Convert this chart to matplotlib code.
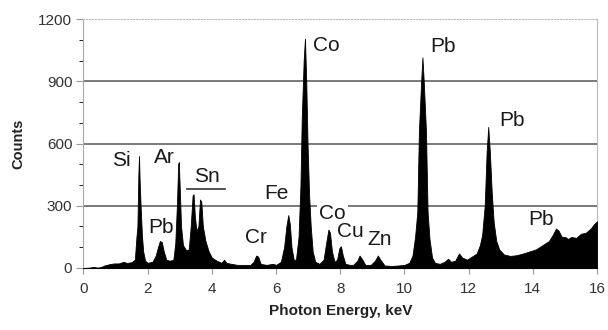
import matplotlib
matplotlib.use("Agg")
import matplotlib.pyplot as plt
from matplotlib.ticker import MultipleLocator

plt.rcParams['font.family'] = ['Liberation Sans', 'DejaVu Sans']

# Spectrum (keV, counts)
energy = [0.00, 0.20, 0.30, 0.45, 0.55, 0.65, 0.80, 0.95, 1.10, 1.25, 1.35, 1.50,
          1.60, 1.65, 1.68, 1.71, 1.73, 1.75, 1.78, 1.82, 1.86, 1.92, 2.00, 2.15,
          2.25, 2.32, 2.38, 2.44, 2.50, 2.58, 2.68, 2.80, 2.86, 2.91, 2.95, 2.97,
          3.00, 3.04, 3.10, 3.20, 3.28, 3.34, 3.40, 3.43, 3.47, 3.52, 3.58, 3.63,
          3.67, 3.72, 3.80, 3.90, 4.00, 4.15, 4.30, 4.38, 4.45, 4.60, 4.80, 5.00,
          5.20, 5.30, 5.38, 5.44, 5.52, 5.70, 5.90, 6.00, 6.15, 6.25, 6.32, 6.38,
          6.43, 6.48, 6.55, 6.62, 6.70, 6.76, 6.80, 6.86, 6.90, 6.94, 6.98, 7.03,
          7.08, 7.14, 7.22, 7.35, 7.48, 7.56, 7.63, 7.68, 7.74, 7.82, 7.90, 7.97,
          8.02, 8.08, 8.16, 8.30, 8.40, 8.53, 8.60, 8.67, 8.78, 8.95, 9.08, 9.17,
          9.25, 9.38, 9.60, 9.80, 10.00, 10.15, 10.25, 10.33, 10.40, 10.45, 10.52,
          10.56, 10.60, 10.67, 10.72, 10.78, 10.86, 10.95, 11.10, 11.25, 11.36,
          11.45, 11.58, 11.70, 11.80, 11.95, 12.10, 12.25, 12.35, 12.42, 12.50,
          12.56, 12.61, 12.66, 12.72, 12.78, 12.86, 12.95, 13.10, 13.30, 13.50,
          13.70, 13.90, 14.10, 14.30, 14.50, 14.62, 14.72, 14.80, 14.90, 15.00,
          15.10, 15.20, 15.35, 15.50, 15.65, 15.80, 15.90, 16.00]
counts = [0, 2, 5, 2, 5, 12, 18, 22, 22, 30, 24, 28,
          40, 150, 200, 450, 540, 420, 300, 160, 80, 35, 25, 30,
          60, 100, 130, 125, 80, 40, 35, 40, 120, 300, 500, 510,
          380, 200, 110, 85, 90, 200, 350, 355, 250, 180, 200, 330,
          320, 200, 130, 80, 50, 35, 25, 40, 25, 20, 15, 15,
          15, 30, 60, 55, 20, 15, 20, 15, 30, 100, 200, 255,
          210, 100, 40, 40, 150, 400, 720, 1000, 1105, 900, 600, 350,
          200, 80, 30, 20, 40, 120, 185, 170, 80, 30, 40, 95,
          105, 60, 20, 15, 15, 35, 60, 45, 15, 15, 35, 60,
          40, 12, 10, 12, 15, 25, 60, 150, 270, 660, 900,
          1015, 900, 660, 270, 140, 50, 25, 20, 30, 45,
          30, 35, 70, 50, 40, 55, 70, 110, 160, 300,
          560, 680, 560, 360, 220, 130, 90, 65, 58, 62,
          70, 80, 90, 110, 130, 160, 190, 180, 150, 150,
          140, 150, 145, 165, 170, 190, 210, 225]

# Peak labels (text, keV, counts)
label_text = ["Si", "Ar", "Sn", "Pb", "Cr", "Fe", "Co", "Co", "Cu", "Zn", "Pb", "Pb", "Pb"]
label_x = [1.18, 2.51, 3.85, 2.41, 5.36, 6.01, 7.57, 7.76, 8.33, 9.22, 11.21, 13.36, 14.24]
label_y = [520, 533, 443, 193, 147, 359, 1072, 263, 176, 135, 1068, 713, 236]
sn_bar_x = [3.21, 4.41]
sn_bar_y = [379, 379]

x_ticks = [0, 2, 4, 6, 8, 10, 12, 14, 16]
y_ticks = [0, 300, 600, 900, 1200]

fig = plt.figure(figsize=(6.08, 3.30), dpi=100)
ax = fig.add_axes([0.1373, 0.1879, 0.9820 - 0.1373, 0.9424 - 0.1879])

ax.fill_between(energy, counts, 0, color='black', lw=0.6, edgecolor='black', zorder=4)

for v in y_ticks[1:-1]:
    ax.axhline(v, color='#7a7a7a', lw=1.4, zorder=1)

for t, x, y in zip(label_text, label_x, label_y):
    kw = {}
    if t == "Co" and y < 500:
        kw['bbox'] = dict(facecolor='white', edgecolor='none', pad=1.5)
    ax.text(x, y, t, ha='center', va='center', fontsize=15, color='#1a1a1a', zorder=3, **kw)
ax.plot(sn_bar_x, sn_bar_y, color='#333333', lw=1.2, zorder=3)

ax.set_xlim(0, 16)
ax.set_ylim(0, 1200)
ax.set_xticks(x_ticks)
ax.set_yticks(y_ticks)
ax.yaxis.set_minor_locator(MultipleLocator(100))
ax.tick_params(axis='both', labelsize=11, labelcolor='#333333', color='#999999')
ax.tick_params(axis='y', which='major', length=5, width=0.8, pad=3)
ax.tick_params(axis='y', which='minor', length=3, width=0.6)
ax.tick_params(axis='x', which='major', length=4, width=0.8, pad=6)

ax.spines['top'].set_color('#bbbbbb')
ax.spines['top'].set_linestyle(':')
ax.spines['right'].set_color('#bbbbbb')
ax.spines['right'].set_linewidth(0.8)
ax.spines['left'].set_color('#aaaaaa')
ax.spines['left'].set_linewidth(0.8)
ax.spines['bottom'].set_color('#333333')

ax.set_ylabel('Counts', fontsize=10.5, fontweight='bold', color='#222222', labelpad=9)
ax.set_xlabel('Photon Energy, keV', fontsize=11, fontweight='bold', color='#222222', labelpad=6)

fig.savefig('out.png', dpi=100)
